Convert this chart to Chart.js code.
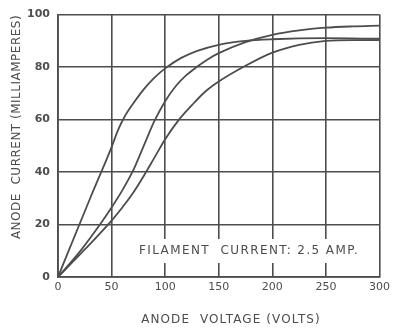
<!DOCTYPE html>
<html lang="en">
<head>
    <meta charset="UTF-8">
    <title>Anode Current vs Anode Voltage</title>
    <script src="https://cdn.jsdelivr.net/npm/chart.js"></script>
    <style>
        body {
            margin: 0;
            background-color: #ffffff;
        }
    </style>
</head>
<body>

<canvas id="anodeChart" width="394" height="332"></canvas>

<script>
    // three characteristic curves, anode voltage (V) against anode current (mA)
    const voltsA = [0, 30, 50, 56, 62, 70, 80, 90, 100, 115, 130, 150, 175, 200, 250, 300];
    const currentA = [0, 30, 49.5, 56, 61, 66, 71.5, 76, 79.5, 83.5, 86.2, 88.5, 90, 90.6, 91, 90.8];

    const voltsB = [0, 20, 40, 50, 60, 70, 80, 90, 100, 110, 120, 130, 140, 150, 175, 200, 225, 250, 275, 300];
    const currentB = [0, 9.5, 20.5, 26.5, 33, 40.5, 50, 59.5, 67, 72.8, 77, 80.2, 83, 85.3, 89.5, 92.3, 94, 95, 95.5, 95.8];

    const voltsC = [0, 25, 50, 60, 70, 80, 90, 100, 112, 125, 137, 150, 175, 200, 225, 250, 275, 300];
    const currentC = [0, 10.5, 21.5, 26.5, 32, 38.5, 45.5, 52.5, 59.5, 65.5, 70.5, 74.5, 80.5, 85.5, 88.5, 90, 90.3, 90.3];

    const xTicks = [0, 50, 100, 150, 200, 250, 300];
    const yTicks = [0, 20, 40, 60, 80, 100];

    const INK = '#4d4d4d';

    function toPoints(xs, ys) {
        return xs.map((x, i) => ({ x: x, y: ys[i] }));
    }

    function curve(xs, ys) {
        return {
            data: toPoints(xs, ys),
            showLine: true,
            borderColor: INK,
            borderWidth: 1.8,
            pointRadius: 0,
            cubicInterpolationMode: 'monotone',
            fill: false
        };
    }

    // captions and the filament note, drawn on top of the grid
    const labelsPlugin = {
        id: 'labelsPlugin',
        afterDatasetsDraw(chart) {
            const ctx = chart.ctx;
            ctx.save();
            ctx.fillStyle = '#ffffff';
            ctx.fillRect(136, 239, 226, 24);

            ctx.fillStyle = INK;
            ctx.textBaseline = 'middle';
            ctx.font = '12px "DejaVu Sans"';
            ctx.letterSpacing = '1.4px';
            ctx.textAlign = 'left';
            ctx.fillText('FILAMENT  CURRENT: 2.5 AMP.', 139, 251);

            ctx.letterSpacing = '1.1px';
            ctx.textAlign = 'center';
            ctx.fillText('ANODE  VOLTAGE (VOLTS)', 231, 320);

            ctx.letterSpacing = '0.5px';
            ctx.translate(17, 127);
            ctx.rotate(-Math.PI / 2);
            ctx.fillText('ANODE  CURRENT (MILLIAMPERES)', 0, 0);
            ctx.restore();
        }
    };

    const ctx = document.getElementById('anodeChart').getContext('2d');

    new Chart(ctx, {
        type: 'scatter',
        data: {
            datasets: [
                curve(voltsA, currentA),
                curve(voltsB, currentB),
                curve(voltsC, currentC)
            ]
        },
        options: {
            responsive: false,
            devicePixelRatio: 1,
            animation: false,
            layout: {
                padding: { top: 10, right: 12, left: 0, bottom: 0 }
            },
            plugins: {
                legend: { display: false },
                tooltip: { enabled: false }
            },
            scales: {
                x: {
                    type: 'linear',
                    min: 0,
                    max: 300,
                    afterFit(scale) { scale.height = 55; },
                    afterBuildTicks(scale) { scale.ticks = xTicks.map(v => ({ value: v })); },
                    grid: { color: INK, lineWidth: 1.6, drawTicks: false },
                    border: { color: INK, width: 1.8 },
                    ticks: {
                        color: INK,
                        padding: 4,
                        autoSkip: false,
                        maxRotation: 0,
                        font: { family: 'DejaVu Sans', size: 11 }
                    }
                },
                y: {
                    type: 'linear',
                    min: 0,
                    max: 100,
                    afterFit(scale) { scale.width = 58; },
                    afterBuildTicks(scale) { scale.ticks = yTicks.map(v => ({ value: v })); },
                    grid: { color: INK, lineWidth: 1.6, drawTicks: false },
                    border: { color: INK, width: 1.8 },
                    ticks: {
                        color: INK,
                        padding: 8,
                        autoSkip: false,
                        font: { family: 'DejaVu Sans', size: 11, weight: 'bold' }
                    }
                }
            }
        },
        plugins: [labelsPlugin]
    });
</script>
</body>
</html>
